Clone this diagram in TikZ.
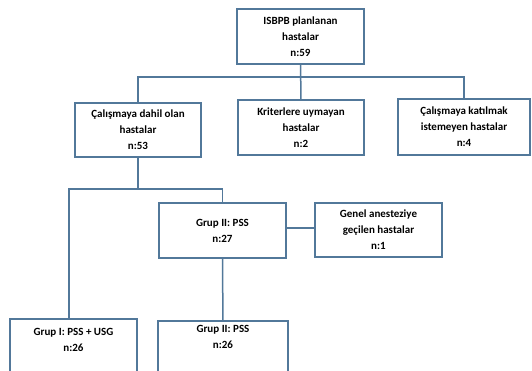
\documentclass[tikz,border=0pt]{standalone}
\usepackage{fontspec}
\setmainfont{Carlito}
\usetikzlibrary{positioning, calc}
\definecolor{cblue}{HTML}{52789A}
\tikzset{
  every picture/.style={font=\bfseries\fontsize{11}{16}\selectfont, line width=1.5pt},
  box/.style={draw=cblue, fill=white, align=center, inner sep=3pt, minimum width=127pt, minimum height=55pt},
  link/.style={draw=cblue, line width=1.5pt},
}

\begin{document}
\begin{tikzpicture}[x=1pt, y=-1pt]
  \useasboundingbox (0,0) rectangle (532,370);
  \clip (0,0) rectangle (532,370);
  \node[box] (top) at (300.5,36.5) {ISBPB planlanan\\hastalar\\n:59};
  \node[box, minimum width=126pt, minimum height=54pt] (dahil) at (138,130) {Çalışmaya dahil olan\\hastalar\\n:53};
  \node[box, minimum width=126pt] (krit) at (301,127.5) {Kriterlere uymayan\\hastalar\\n:2};
  \node[box, minimum width=132pt, minimum height=56pt] (katil) at (464,127) {Çalışmaya katılmak\\istemeyen hastalar\\n:4};
  \node[box] (grupiia) at (222.5,230.5) {Grup II: PSS\\n:27};
  \node[box, minimum height=54pt] (genel) at (378.5,230) {Genel anesteziye\\geçilen hastalar\\n:1};
  \node[box, anchor=north, minimum height=0pt, inner ysep=10pt, text depth=40pt] (grupi) at (73.5,318) {Grup I: PSS + USG\\n:26};
  \node[box, anchor=north, minimum width=130pt, minimum height=0pt, inner ysep=5pt, text depth=40pt] (grupiib) at (223,320) {Grup II: PSS\\n:26};
  % branches
  \coordinate (bus1) at ($(top.south)!0.36!(krit.north)$);
  \draw[link] (top) -- (krit);
  \draw[link] (dahil.north) |- (bus1) -| (katil.north);
  \coordinate (bus2) at (dahil.south |- 0,189);
  \coordinate (bus2l) at (69,189);
  \draw[link] (dahil.south) -- (bus2);
  \draw[link] (bus2l |- grupi.north) -- (bus2l) -| (grupiia.north);
  \draw[link] (grupiia) -- (grupiib);
  \draw[link] (grupiia.east |- 0,228) -- (genel.west |- 0,228);
\end{tikzpicture}
\end{document}
